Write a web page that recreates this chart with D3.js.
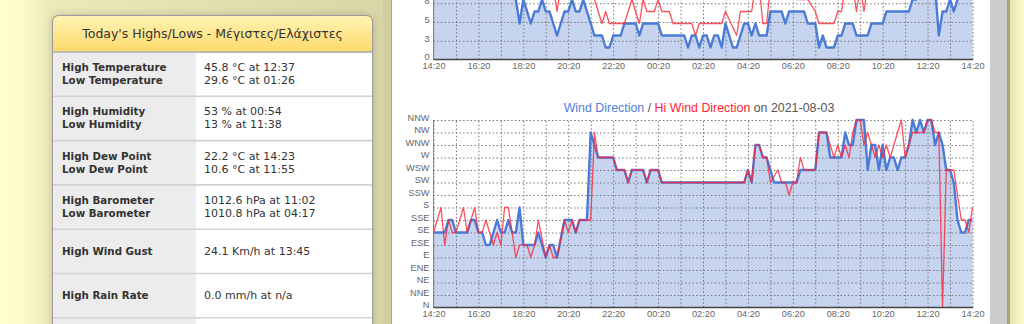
<!DOCTYPE html>
<html>
<head>
<meta charset="utf-8">
<title>Wind direction</title>
<script src="https://d3js.org/d3.v7.min.js"></script>
<style>
  body { margin: 0; background: #ffffcc; overflow: hidden; }
  .tbl { font-family: "DejaVu Sans", Verdana, sans-serif; fill: #333; }
  .chart text { font-family: "Liberation Sans", Arial, sans-serif; }
</style>
</head>
<body>
<script>
// ---- data ----
var tableLabels = [
  ["High Temperature", "Low Temperature"],
  ["High Humidity", "Low Humidity"],
  ["High Dew Point", "Low Dew Point"],
  ["High Barometer", "Low Barometer"],
  ["High Wind Gust"],
  ["High Rain Rate"],
  [""]
];
var tableValues = [
  ["45.8 °C at 12:37", "29.6 °C at 01:26"],
  ["53 % at 00:54", "13 % at 11:38"],
  ["22.2 °C at 14:23", "10.6 °C at 11:55"],
  ["1012.6 hPa at 11:02", "1010.8 hPa at 04:17"],
  ["24.1 Km/h at 13:45"],
  ["0.0 mm/h at n/a"],
  [""]
];
var tableTitle = "Today's Highs/Lows - Μέγιστες/Ελάχιστες";

var compassPoints = ["N","NNE","NE","ENE","E","ESE","SE","SSE","S","SSW","SW","WSW","W","WNW","NW","NNW"];
var timeLabels = ["14:20","16:20","18:20","20:20","22:20","00:20","02:20","04:20","06:20","08:20","10:20","12:20","14:20"];
var chartDate = "2021-08-03";
var speedTicks = [0, 2.5, 5, 7.5, 10, 12.5, 15, 17.5, 20];

// minutes after 14:20, wind direction
var windDir = [[0,"SE"],[30,"SE"],[40,"SSE"],[50,"SSE"],[60,"SE"],[90,"SE"],[100,"SSE"],[110,"SSE"],[120,"SE"],[130,"SE"],
  [140,"ESE"],[150,"ESE"],[160,"SE"],[170,"SSE"],[180,"SE"],[190,"SE"],[200,"SSE"],[210,"SE"],[220,"SE"],[230,"S"],
  [240,"ESE"],[270,"ESE"],[280,"SE"],[300,"E"],[310,"ESE"],[320,"ESE"],[330,"E"],[350,"SSE"],[370,"SSE"],[380,"SE"],
  [390,"SSE"],[410,"SSE"],[420,"NW"],[430,"WNW"],[440,"W"],[480,"W"],[490,"WSW"],[510,"WSW"],[520,"SW"],[530,"WSW"],
  [560,"WSW"],[570,"SW"],[580,"WSW"],[600,"WSW"],[610,"SW"],[830,"SW"],[840,"WSW"],[850,"SW"],[860,"WNW"],[870,"WNW"],
  [880,"W"],[890,"W"],[910,"SW"],[970,"SW"],[980,"WSW"],[1020,"WSW"],[1030,"NW"],[1050,"NW"],[1060,"W"],[1090,"W"],
  [1100,"NW"],[1110,"WNW"],[1120,"WNW"],[1130,"NNW"],[1150,"NNW"],[1160,"WSW"],[1170,"WNW"],[1180,"WNW"],[1190,"WSW"],
  [1200,"WNW"],[1210,"WSW"],[1220,"W"],[1230,"W"],[1240,"WSW"],[1250,"W"],[1260,"W"],[1270,"WNW"],[1280,"NNW"],
  [1290,"NW"],[1300,"NNW"],[1310,"NW"],[1320,"NNW"],[1330,"NNW"],[1340,"WNW"],[1350,"NW"],[1360,"WNW"],[1370,"WSW"],
  [1380,"WSW"],[1390,"SW"],[1400,"SSE"],[1410,"SE"],[1420,"SE"],[1430,"SSE"],[1440,"SSE"]];

var hiWindDir = [[0,"SE"],[20,"S"],[30,"ESE"],[40,"SSE"],[50,"SE"],[60,"SE"],[80,"S"],[90,"SE"],[110,"S"],[120,"SE"],
  [130,"SE"],[140,"SSE"],[150,"SE"],[160,"ESE"],[170,"SE"],[180,"ESE"],[190,"S"],[200,"S"],[210,"SE"],[220,"E"],
  [230,"ESE"],[250,"ESE"],[260,"E"],[270,"ESE"],[280,"SSE"],[300,"E"],[310,"ESE"],[320,"E"],[330,"E"],[350,"SSE"],
  [360,"SE"],[370,"SSE"],[380,"SE"],[390,"SSE"],[420,"SSE"],[430,"NW"],[440,"W"],[480,"W"],[490,"WSW"],[510,"WSW"],
  [520,"SW"],[530,"WSW"],[560,"WSW"],[570,"SW"],[580,"WSW"],[600,"WSW"],[610,"SW"],[830,"SW"],[840,"WSW"],[850,"SW"],
  [860,"WNW"],[870,"WNW"],[880,"W"],[890,"W"],[900,"SW"],[920,"WSW"],[930,"SW"],[940,"SW"],[950,"SSW"],[960,"SW"],
  [970,"SW"],[980,"W"],[990,"WSW"],[1020,"WSW"],[1030,"NW"],[1050,"NW"],[1060,"WNW"],[1070,"W"],[1080,"WNW"],
  [1090,"W"],[1100,"WNW"],[1110,"W"],[1120,"NW"],[1130,"NNW"],[1140,"NNW"],[1150,"WNW"],[1160,"NW"],[1170,"WNW"],
  [1180,"W"],[1190,"WNW"],[1200,"W"],[1210,"WNW"],[1220,"W"],[1230,"WNW"],[1240,"NW"],[1250,"NNW"],[1260,"W"],
  [1270,"WNW"],[1280,"NW"],[1310,"NW"],[1320,"NNW"],[1330,"NNW"],[1340,"NW"],[1350,"NW"],[1360,"N"],[1370,"WSW"],
  [1390,"WSW"],[1400,"SSW"],[1410,"SSE"],[1420,"SSE"],[1430,"SE"],[1440,"S"]];

// minutes after 14:20, km/h (upper chart, only its lower part is on screen)
var windSpeed = [[0,11.3],[10,12.9],[20,11.3],[30,9.7],[40,11.3],[50,12.9],[60,11.3],[70,9.7],[80,11.3],[90,12.9],
  [100,14.5],[110,12.9],[120,11.3],[130,9.7],[140,11.3],[150,12.9],[160,11.3],[170,9.7],[180,11.3],[190,9.7],[200,9.7],
  [210,9.7],[220,8.0],[230,4.8],[240,8.0],[260,4.8],[270,6.4],[280,6.4],[290,8.0],[300,6.4],[310,6.4],[330,3.2],
  [350,6.4],[360,6.4],[370,8.0],[380,6.4],[390,6.4],[400,8.0],[420,4.8],[430,3.2],[450,3.2],[460,1.6],[470,1.6],
  [480,3.2],[500,3.2],[510,4.8],[540,4.8],[550,3.2],[560,4.8],[600,4.8],[610,3.2],[670,3.2],[680,1.6],[690,3.2],
  [700,3.2],[710,1.6],[720,3.2],[730,3.2],[740,1.6],[750,3.2],[760,3.2],[770,1.6],[780,4.8],[790,3.2],[800,1.6],
  [810,1.6],[830,4.8],[840,4.8],[850,3.2],[860,4.8],[870,3.2],[890,3.2],[900,6.4],[930,6.4],[940,4.8],[950,6.4],
  [990,6.4],[1000,4.8],[1020,4.8],[1030,1.6],[1040,3.2],[1050,1.6],[1070,1.6],[1080,3.2],[1090,3.2],[1100,4.8],
  [1120,4.8],[1130,3.2],[1160,3.2],[1170,4.8],[1200,4.8],[1210,6.4],[1270,6.4],[1280,8.0],[1290,8.0],[1300,9.7],
  [1310,11.3],[1320,9.7],[1330,11.3],[1340,9.7],[1350,3.2],[1360,6.4],[1370,6.4],[1380,8.0],[1390,6.4],[1400,8.0],
  [1410,9.7],[1420,11.3],[1430,9.7],[1440,11.3]];

var windGust = [[0,16.1],[10,17.7],[20,19.3],[30,16.1],[40,17.7],[50,20.9],[60,17.7],[70,16.1],[80,19.3],[90,17.7],
  [100,20.9],[110,19.3],[120,17.7],[130,16.1],[140,17.7],[150,19.3],[160,16.1],[170,14.5],[180,16.1],[190,17.7],
  [200,16.1],[210,14.5],[220,12.9],[230,11.3],[240,12.9],[250,11.3],[260,9.7],[270,11.3],[280,9.7],[290,11.3],
  [300,9.7],[310,11.3],[320,9.7],[330,6.4],[340,9.7],[350,11.3],[360,9.7],[370,8.0],[380,9.7],[390,8.0],[400,9.7],
  [410,11.3],[420,9.7],[440,6.4],[450,4.8],[460,6.4],[470,4.8],[510,4.8],[530,8.0],[550,4.8],[560,8.0],[570,6.4],
  [590,6.4],[600,8.0],[610,6.4],[630,6.4],[640,4.8],[690,4.8],[700,3.2],[710,4.8],[770,4.8],[780,6.4],[810,3.2],
  [820,6.4],[850,6.4],[860,9.7],[870,9.7],[880,4.8],[890,4.8],[900,9.7],[910,11.3],[920,9.7],[930,11.3],[940,9.7],
  [950,11.3],[960,9.7],[970,8.0],[1000,8.0],[1020,6.4],[1030,4.8],[1070,4.8],[1080,6.4],[1090,6.4],[1100,9.7],
  [1120,9.7],[1130,6.4],[1140,9.7],[1150,6.4],[1160,9.7],[1170,11.3],[1180,12.9],[1190,11.3],[1200,12.9],[1210,14.5],
  [1220,12.9],[1230,11.3],[1240,12.9],[1250,14.5],[1260,16.1],[1270,14.5],[1280,12.9],[1290,14.5],[1300,16.1],
  [1310,17.7],[1320,16.1],[1330,19.3],[1340,17.7],[1350,20.9],[1360,17.7],[1370,19.3],[1380,20.9],[1390,22.5],
  [1400,24.1],[1410,20.9],[1420,19.3],[1430,17.7],[1440,19.3]];

// ---- page ----
var W = 1024, H = 324;
var svg = d3.select("body").append("svg").attr("width", W).attr("height", H);
var defs = svg.append("defs");

var colGrad = defs.append("linearGradient").attr("id", "colGrad")
  .attr("gradientUnits", "userSpaceOnUse").attr("x1", 0).attr("x2", 384).attr("y1", 0).attr("y2", 0);
colGrad.append("stop").attr("offset", 0).attr("stop-color", "#ffffcc");
colGrad.append("stop").attr("offset", 0.06).attr("stop-color", "#fcfbc7");
colGrad.append("stop").attr("offset", 0.13).attr("stop-color", "#ecEabb");
colGrad.append("stop").attr("offset", 1).attr("stop-color", "#d9d6a8");

var rightGrad = defs.append("linearGradient").attr("id", "rightGrad")
  .attr("gradientUnits", "userSpaceOnUse").attr("x1", 1010).attr("x2", 1024).attr("y1", 0).attr("y2", 0);
rightGrad.append("stop").attr("offset", 0).attr("stop-color", "#e6e3b3");
rightGrad.append("stop").attr("offset", 1).attr("stop-color", "#fdfcc9");

var headGrad = defs.append("linearGradient").attr("id", "headGrad").attr("x1", 0).attr("x2", 0).attr("y1", 0).attr("y2", 1);
headGrad.append("stop").attr("offset", 0).attr("stop-color", "#fff4b6");
headGrad.append("stop").attr("offset", 1).attr("stop-color", "#fdd96a");

var shadow = defs.append("filter").attr("id", "shadow").attr("x", -0.2).attr("y", -0.2).attr("width", 1.4).attr("height", 1.4);
shadow.append("feDropShadow").attr("dx", 0).attr("dy", 0).attr("stdDeviation", 4)
  .attr("flood-color", "#6b6640").attr("flood-opacity", 0.35);

svg.append("rect").attr("width", W).attr("height", H).attr("fill", "#ffffcc");
svg.append("rect").attr("x", 0).attr("width", 384).attr("height", H).attr("fill", "url(#colGrad)");
svg.append("rect").attr("x", 383).attr("width", 9).attr("height", H).attr("fill", "#d2cea0");
svg.append("line").attr("x1", 391.5).attr("x2", 391.5).attr("y1", 0).attr("y2", H).attr("stroke", "#aaa57e");
svg.append("rect").attr("x", 392).attr("width", 598).attr("height", H).attr("fill", "#fff");
svg.append("rect").attr("x", 990).attr("width", 17).attr("height", H).attr("fill", "#cdcdcd");
svg.append("rect").attr("x", 1007).attr("width", 3).attr("height", H).attr("fill", "#a9a57d");
svg.append("rect").attr("x", 1010).attr("width", 14).attr("height", H).attr("fill", "url(#rightGrad)");

// ---- highs / lows table ----
var bx = 52.5, bw = 320, by = 15.5, headH = 36.5, labelW = 143;
var tbl = svg.append("g").attr("class", "tbl");
var rowH = 44.3, rowTop = by + headH;

tbl.append("path")
  .attr("d", "M" + bx + "," + (H + 5) + "V" + (by + 7) + "Q" + bx + "," + by + " " + (bx + 7) + "," + by +
        "H" + (bx + bw - 7) + "Q" + (bx + bw) + "," + by + " " + (bx + bw) + "," + (by + 7) + "V" + (H + 5) + "Z")
  .attr("fill", "#fff").attr("stroke", "#9a9a9a").attr("filter", "url(#shadow)");

tbl.append("path")
  .attr("d", "M" + bx + "," + rowTop + "V" + (by + 7) + "Q" + bx + "," + by + " " + (bx + 7) + "," + by +
        "H" + (bx + bw - 7) + "Q" + (bx + bw) + "," + by + " " + (bx + bw) + "," + (by + 7) + "V" + rowTop + "Z")
  .attr("fill", "url(#headGrad)").attr("stroke", "#9a9a9a");

tbl.append("text").attr("x", bx + bw / 2).attr("y", by + headH / 2 + 4.5)
  .attr("text-anchor", "middle").attr("font-size", "12.5px").attr("fill", "#333").text(tableTitle);

var rows = tbl.selectAll("g.row").data(tableLabels).enter().append("g").attr("class", "row")
  .attr("transform", function (d, i) { return "translate(0," + (rowTop + i * rowH) + ")"; });
rows.append("rect").attr("x", bx + 0.5).attr("width", labelW).attr("height", rowH).attr("fill", "#ececec");
rows.append("line").attr("x1", bx + 0.5).attr("x2", bx + bw - 0.5).attr("y1", 0).attr("y2", 0)
  .attr("stroke", function (d, i) { return i === 0 ? "#b5b5b5" : "#d2d2d2"; }).attr("stroke-width", 1.6);

rows.each(function (labels, i) {
  var g = d3.select(this);
  var n = labels.length;
  labels.forEach(function (t, j) {
    var cy = rowH / 2 - 0.5 + (j - (n - 1) / 2) * 13;
    g.append("text").attr("x", 62).attr("y", cy + 4).attr("font-size", "10.3px")
      .attr("font-weight", "bold").text(t);
    g.append("text").attr("x", 204).attr("y", cy + 4).attr("font-size", "11px").text(tableValues[i][j]);
  });
});
tbl.append("line").attr("x1", bx).attr("x2", bx).attr("y1", rowTop).attr("y2", H).attr("stroke", "#9a9a9a");
tbl.append("line").attr("x1", bx + bw).attr("x2", bx + bw).attr("y1", rowTop).attr("y2", H).attr("stroke", "#9a9a9a");

// ---- charts ----
var blue = "#4a7bd6", red = "#ff2436", fillBlue = "#c7d4f0";
var x = d3.scaleLinear().domain([0, 1440]).range([433.5, 972.5]);
var hourTicks = d3.range(0, 1441, 60);
var labelTicks = d3.range(0, 1441, 120);

function drawPlot(g, y, yTicks, yFmt, speedData, gustData, top, bottom) {
  var area = d3.area().x(function (d) { return x(d[0]); }).y0(bottom).y1(function (d) { return y(d[1]); });
  var line = d3.line().x(function (d) { return x(d[0]); }).y(function (d) { return y(d[1]); });

  g.append("path").datum(speedData).attr("d", area).attr("fill", fillBlue);

  // grid
  g.append("g").attr("transform", "translate(0," + bottom + ")")
    .call(d3.axisBottom(x).tickValues(hourTicks).tickSize(-(bottom - top)).tickFormat(""))
    .call(function (a) { a.select(".domain").remove(); })
    .selectAll("line").attr("stroke", "#777").attr("stroke-dasharray", "1.5,2.2").attr("stroke-width", 1);
  g.append("g").attr("transform", "translate(" + x.range()[0] + ",0)")
    .call(d3.axisLeft(y).tickValues(yTicks.slice(1)).tickSize(-(x.range()[1] - x.range()[0])).tickFormat(""))
    .call(function (a) { a.select(".domain").remove(); })
    .selectAll("line").attr("stroke", "#777").attr("stroke-dasharray", "1.5,2.2").attr("stroke-width", 1);

  g.append("line").attr("x1", x.range()[0]).attr("x2", x.range()[0]).attr("y1", top).attr("y2", bottom)
    .attr("stroke", "#8a8a8a");

  g.append("path").datum(speedData).attr("d", line).attr("fill", "none")
    .attr("stroke", blue).attr("stroke-width", 2.4).attr("stroke-linejoin", "round");
  g.append("path").datum(gustData).attr("d", line).attr("fill", "none")
    .attr("stroke", red).attr("stroke-width", 1.3).attr("stroke-opacity", 0.8).attr("stroke-linejoin", "round");

  g.append("line").attr("x1", x.range()[0]).attr("x2", x.range()[1] + 0.5).attr("y1", bottom).attr("y2", bottom)
    .attr("stroke", "#444").attr("stroke-width", 1.5);

  // labels
  var xa = g.append("g").attr("transform", "translate(0," + bottom + ")")
    .call(d3.axisBottom(x).tickValues(labelTicks).tickSize(0).tickPadding(3)
      .tickFormat(function (d) { return timeLabels[d / 120]; }));
  xa.select(".domain").remove();
  xa.selectAll("text").attr("font-size", "9.2px").attr("fill", "#666").attr("font-family", "Liberation Sans, Arial, sans-serif");

  // only label the grid lines that fall on the page
  var shown = yTicks.filter(function (t) { return y(t) > 2; });
  var ya = g.append("g").attr("transform", "translate(" + (x.range()[0] - 4) + ",0)")
    .call(d3.axisLeft(y).tickValues(shown).tickSize(0).tickPadding(0).tickFormat(yFmt));
  ya.select(".domain").remove();
  ya.selectAll("text").attr("y", -2.6).attr("font-size", "9.2px").attr("fill", "#666")
    .attr("font-family", "Liberation Sans, Arial, sans-serif");
}

var chart = svg.append("g").attr("class", "chart");

// upper chart (only bottom part is on the page)
var ySpeed = d3.scaleLinear().domain([0, 25]).range([59.5, 59.5 - 187.5]);
drawPlot(chart.append("g"), ySpeed, speedTicks, function (d) { return d.toFixed(0); },
  windSpeed, windGust, ySpeed(20), 59.5);

// wind direction chart
var yDir = d3.scaleLinear().domain([0, 15]).range([307.5, 120]);
function toIdx(arr) { return arr.map(function (d) { return [d[0], compassPoints.indexOf(d[1])]; }); }
drawPlot(chart.append("g"), yDir, d3.range(16), function (i) { return compassPoints[i]; },
  toIdx(windDir), toIdx(hiWindDir), 120, 307.5);

var title = chart.append("text").attr("x", 699).attr("y", 111.5).attr("text-anchor", "middle")
  .attr("font-size", "12.4px");
title.append("tspan").attr("fill", "#4d7fd9").text("Wind Direction");
title.append("tspan").attr("fill", "#555").text(" / ");
title.append("tspan").attr("fill", red).text("Hi Wind Direction");
title.append("tspan").attr("fill", "#555").text(" on " + chartDate);
</script>
</body>
</html>
